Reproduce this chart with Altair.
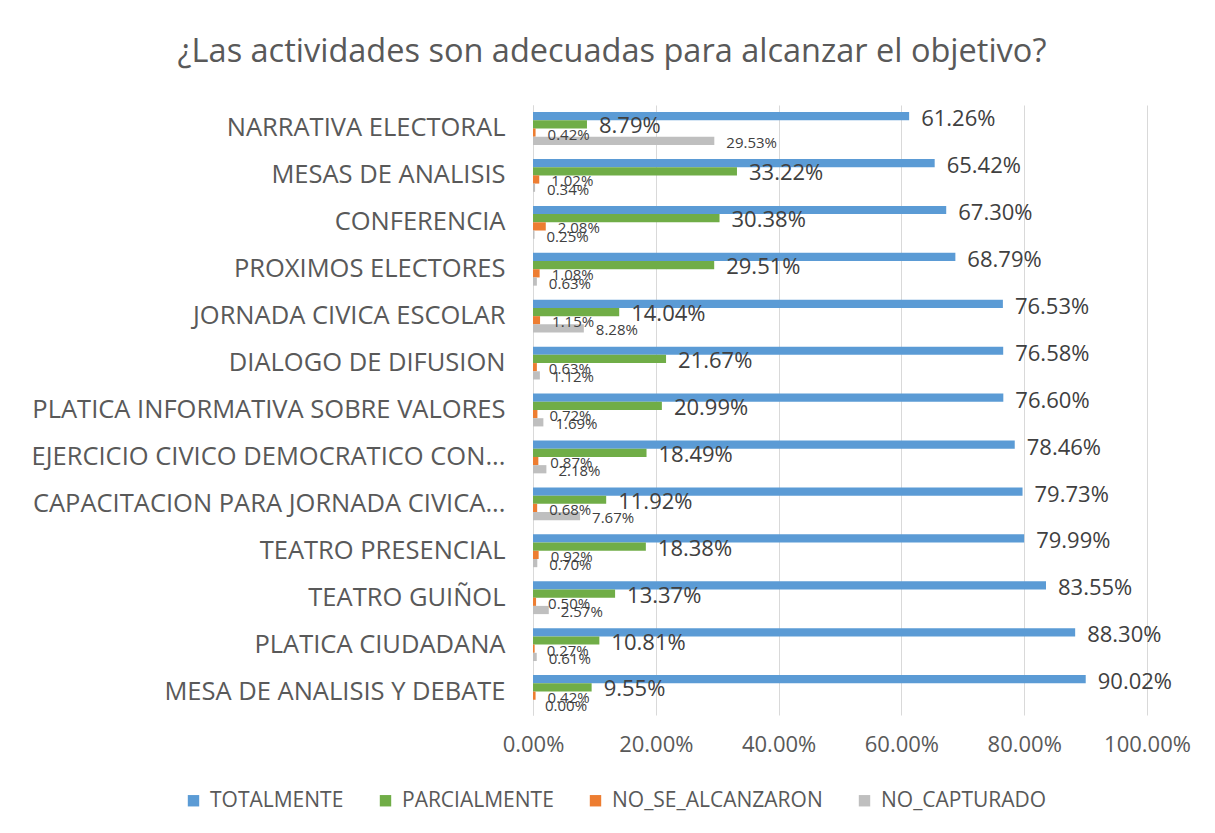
import altair as alt
import pandas as pd

categories = [
    "NARRATIVA ELECTORAL",
    "MESAS DE ANALISIS",
    "CONFERENCIA",
    "PROXIMOS ELECTORES",
    "JORNADA CIVICA ESCOLAR",
    "DIALOGO DE DIFUSION",
    "PLATICA INFORMATIVA SOBRE VALORES",
    "EJERCICIO CIVICO DEMOCRATICO CON...",
    "CAPACITACION PARA JORNADA CIVICA...",
    "TEATRO PRESENCIAL",
    "TEATRO GUIÑOL",
    "PLATICA CIUDADANA",
    "MESA DE ANALISIS Y DEBATE",
]
series = ["TOTALMENTE", "PARCIALMENTE", "NO_SE_ALCANZARON", "NO_CAPTURADO"]
totalmente = [61.26, 65.42, 67.30, 68.79, 76.53, 76.58, 76.60, 78.46, 79.73, 79.99, 83.55, 88.30, 90.02]
parcialmente = [8.79, 33.22, 30.38, 29.51, 14.04, 21.67, 20.99, 18.49, 11.92, 18.38, 13.37, 10.81, 9.55]
no_se_alcanzaron = [0.42, 1.02, 2.08, 1.08, 1.15, 0.63, 0.72, 0.87, 0.68, 0.92, 0.50, 0.27, 0.42]
no_capturado = [29.53, 0.34, 0.25, 0.63, 8.28, 1.12, 1.69, 2.18, 7.67, 0.70, 2.57, 0.61, 0.00]

colors = ["#5B9BD5", "#70AD47", "#ED7D31", "#BFBFBF"]
label_sizes = [22, 22, 15, 15]
label_dy = [3, 2, 2, 2]
x_ticks = [0, 0.2, 0.4, 0.6, 0.8, 1.0]

rows = []
for i, c in enumerate(categories):
    for s, vals in zip(series, [totalmente, parcialmente, no_se_alcanzaron, no_capturado]):
        rows.append({"categoria": c, "serie": s, "valor": vals[i] / 100.0})
df = pd.DataFrame(rows)

FONT = "Open Sans"

y_enc = alt.Y(
    "categoria:N",
    sort=categories,
    scale=alt.Scale(paddingInner=0.3, paddingOuter=0.15),
    axis=alt.Axis(
        title=None, labelFontSize=25.5, labelColor="#595959", labelFont=FONT,
        ticks=False, domainColor="#d9d9d9", labelPadding=28, labelLimit=700,
    ),
)
yoff_enc = alt.YOffset("serie:N", sort=series, scale=alt.Scale(domain=series))
x_enc = alt.X(
    "valor:Q",
    scale=alt.Scale(domain=[0, 1], nice=False),
    axis=alt.Axis(
        title=None, format=".2%", values=x_ticks, labelFontSize=22, labelColor="#595959",
        labelFont=FONT, ticks=False, domain=False, gridColor="#d9d9d9", labelPadding=19,
        labelFlush=False,
    ),
)

bars = alt.Chart(df).mark_bar().encode(
    y=y_enc,
    yOffset=yoff_enc,
    x=x_enc,
    color=alt.Color(
        "serie:N",
        sort=series,
        scale=alt.Scale(domain=series, range=colors),
        legend=alt.Legend(
            title=None, orient="none", legendX=-350, legendY=685, direction="horizontal",
            columns=4, symbolType="square", symbolSize=130, symbolStrokeWidth=0,
            labelFontSize=21, labelColor="#595959", labelFont=FONT, columnPadding=31,
            labelLimit=400, labelOffset=6,
        ),
    ),
)

layers = [bars]
for s, fs, dy in zip(series, label_sizes, label_dy):
    layers.append(
        alt.Chart(df)
        .transform_filter(alt.datum.serie == s)
        .mark_text(align="left", baseline="middle", dx=12, dy=dy, color="#404040", font=FONT, fontSize=fs)
        .encode(
            y=alt.Y("categoria:N", sort=categories),
            yOffset=yoff_enc,
            x=alt.X("valor:Q"),
            text=alt.Text("valor:Q", format=".2%"),
        )
    )

chart = alt.layer(*layers).properties(
    width=614,
    height=610,
    autosize=alt.AutoSizeParams(type="none"),
    padding={"left": 525, "top": 97, "right": 60, "bottom": 110},
    title=alt.TitleParams(
        "¿Las actividades son adecuadas para alcanzar el objetivo?",
        fontSize=32.5, color="#595959", font=FONT, fontWeight="normal",
        anchor="middle", dx=-228, offset=37,
    ),
).configure_view(stroke=None)

chart.save("out.html", embed_options={"renderer": "svg", "actions": False})
